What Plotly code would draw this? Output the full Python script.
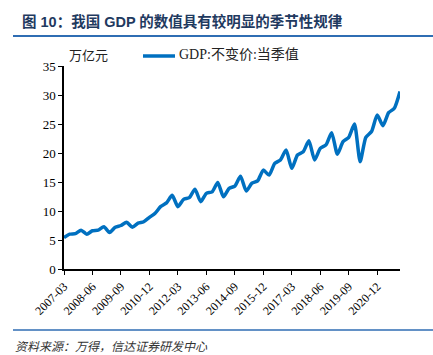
import plotly.graph_objects as go

# Quarter labels 2007-03 ... 2021-12
quarters = [f"{y}-{m:02d}" for y in range(2007, 2022) for m in (3, 6, 9, 12)]

gdp_values = [
    5.4, 6.0, 6.1, 6.7,
    6.0, 6.6, 6.7, 7.3,
    6.3, 7.2, 7.5, 8.05,
    7.2, 7.9, 8.15, 8.9,
    9.6, 10.8, 11.4, 12.7,
    10.75, 12.0, 12.3, 13.75,
    11.6, 13.05, 13.3, 14.9,
    12.45, 13.9, 14.3, 16.0,
    13.45, 14.8, 15.2, 17.05,
    16.2, 18.2, 18.8, 20.5,
    17.35, 19.65, 20.2, 22.1,
    18.8, 20.8, 21.4, 23.5,
    19.8, 21.95, 22.7, 25.0,
    18.5, 22.7, 23.7, 26.55,
    24.7, 26.95, 27.7, 30.6,
]

series_name = "GDP:不变价:当季值"
tick_labels = quarters[::5]
y_ticks = [0, 5, 10, 15, 20, 25, 30, 35]

BLUE = "rgb(0,112,192)"
SERIF = "Liberation Serif, Times New Roman, Noto Sans CJK SC"
CJK = "Noto Sans CJK SC"

fig = go.Figure()
fig.add_trace(go.Scatter(
    x=quarters, y=gdp_values, mode="lines",
    name=series_name, showlegend=False,
    line=dict(color=BLUE, width=3.5, shape="spline", smoothing=0.6),
))

W, H = 433, 355
L, R, T, B = 64, 33, 66, 86
pw, ph = W - L - R, H - T - B


def px(x):
    return (x - L) / pw


def py(y):
    return (H - B - y) / ph


fig.update_layout(
    width=W, height=H,
    margin=dict(l=L, r=R, t=T, b=B, autoexpand=False),
    paper_bgcolor="white", plot_bgcolor="white",
    showlegend=False,
    title=dict(
        text="<b>图 10：我国 GDP 的数值具有较明显的季节性规律</b>",
        x=22 / W, xanchor="left", xref="container",
        y=1 - 22 / H, yanchor="middle", yref="container",
        font=dict(family="Liberation Sans, " + CJK, size=14.5, color="#1f3a5f"),
    ),
    xaxis=dict(
        type="category",
        range=[0, len(quarters) - 1],
        tickmode="array", tickvals=tick_labels, ticktext=tick_labels,
        tickangle=-45,
        ticks="outside", ticklen=4, tickcolor="black",
        showline=True, linecolor="black", linewidth=1.5,
        showgrid=False, zeroline=False, automargin=False,
        tickfont=dict(family=SERIF, size=12, color="black"),
    ),
    yaxis=dict(
        range=[0, 35],
        tickmode="array", tickvals=y_ticks,
        ticks="outside", ticklen=4, tickcolor="black",
        showline=True, linecolor="black", linewidth=1.5,
        showgrid=False, zeroline=False, automargin=False,
        tickfont=dict(family=SERIF, size=13, color="black"),
    ),
    shapes=[
        dict(type="line", xref="paper", yref="paper",
             x0=px(13), x1=px(433), y0=py(36), y1=py(36),
             line=dict(color="#2f6db3", width=2)),
        dict(type="line", xref="paper", yref="paper",
             x0=px(13), x1=px(433), y0=py(330), y1=py(330),
             line=dict(color="#2f6db3", width=1.5)),
        # legend sample line
        dict(type="line", xref="paper", yref="paper",
             x0=px(143), x1=px(175), y0=py(56), y1=py(56),
             line=dict(color=BLUE, width=3.5)),
    ],
    annotations=[
        dict(text="万亿元", xref="paper", yref="paper",
             x=px(88), y=py(54), xanchor="center", yanchor="middle",
             showarrow=False, font=dict(family=CJK, size=13, color="#222")),
        dict(text=series_name, xref="paper", yref="paper",
             x=px(177), y=py(55), xanchor="left", yanchor="middle",
             showarrow=False, font=dict(family=SERIF, size=14, color="#222")),
        dict(text="<i>资料来源：万得，信达证券研发中心</i>", xref="paper", yref="paper",
             x=px(13), y=py(345), xanchor="left", yanchor="middle",
             showarrow=False, font=dict(family=CJK, size=12, color="#333")),
    ],
)

fig.write_html(
    "out.html",
    config={"displayModeBar": False},
    post_script="document.body.style.margin='0';document.body.style.overflow='hidden';",
)
